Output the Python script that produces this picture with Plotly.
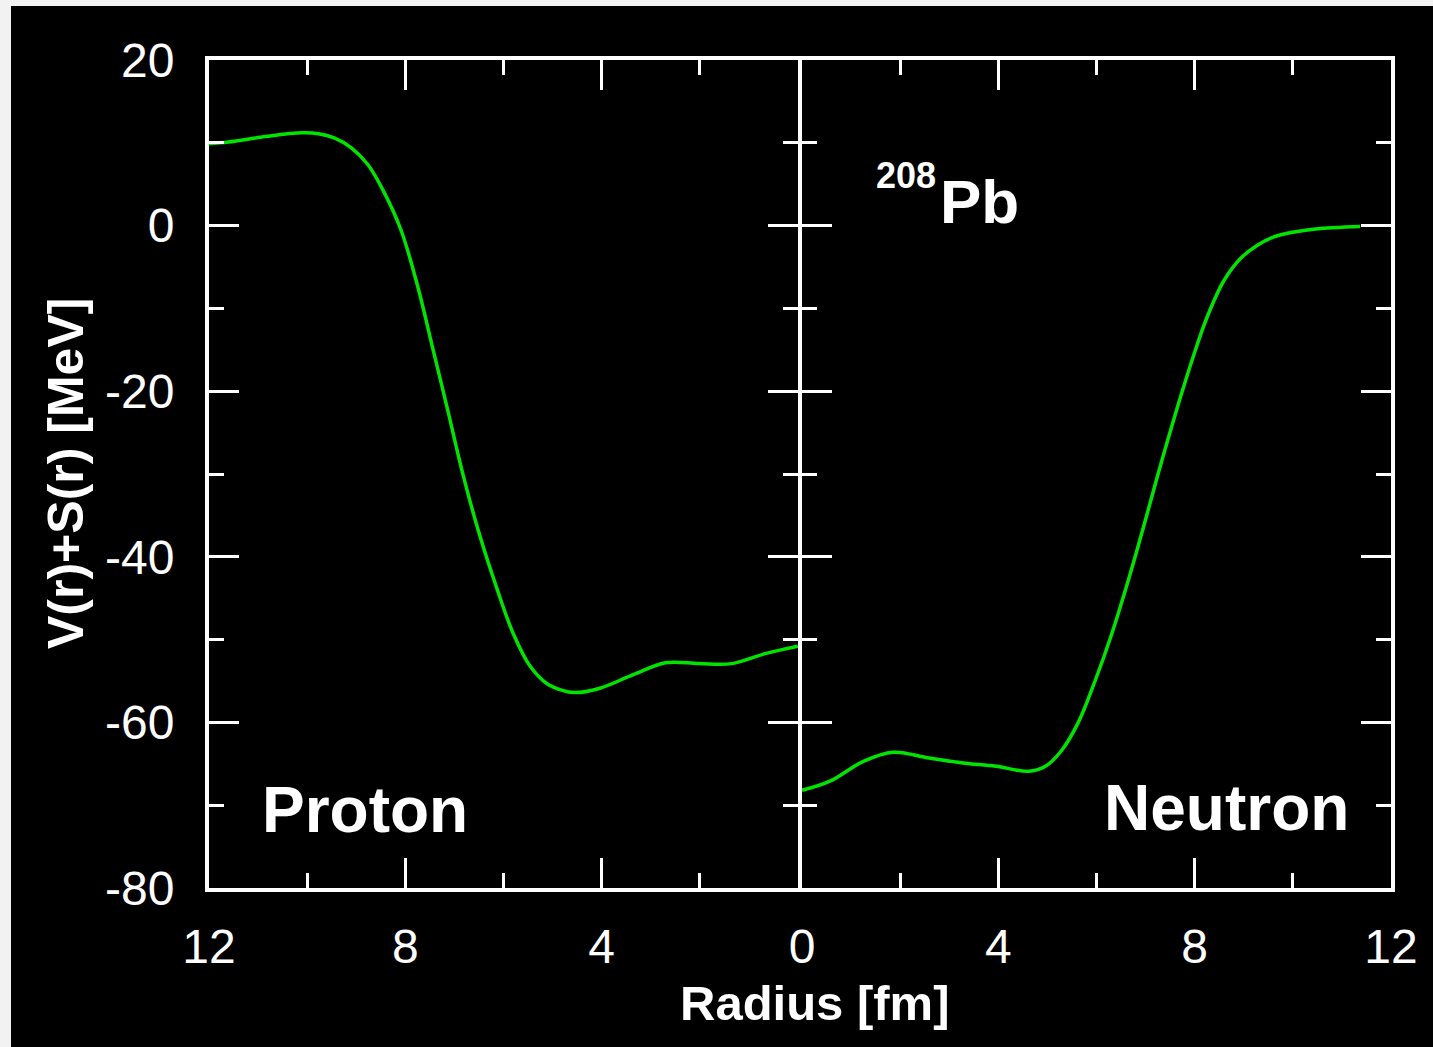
import plotly.graph_objects as go

# ---- data ----
r_proton = [12.0, 11.6, 10.8, 10.1, 9.77, 9.45, 9.1, 8.76, 8.44, 8.09, 7.75, 7.43, 7.14, 6.82, 6.48,
            6.13, 5.8, 5.46, 5.12, 4.82, 4.55, 4.05, 3.38, 2.7, 2.02, 1.35, 0.67, 0.0]
v_proton = [9.9, 10.1, 10.8, 11.2, 11.1, 10.6, 9.4, 7.35, 4.1, -0.5, -7.3, -15.1, -22.2, -30.2, -37.5,
            -43.9, -49.3, -53.2, -55.3, -56.1, -56.4, -55.9, -54.3, -52.8, -52.9, -52.9, -51.7, -50.8]

r_neutron = [0.0, 0.57, 1.25, 1.86, 2.59, 3.28, 3.95, 4.62, 4.96, 5.3, 5.63, 5.97, 6.3, 6.65,
             7.0, 7.32, 7.66, 7.95, 8.25, 8.6, 8.93, 9.27, 9.6, 10.0, 10.46, 11.37]
v_neutron = [-68.2, -67.1, -64.7, -63.6, -64.3, -64.9, -65.3, -65.9, -65.3, -63.3, -60.0, -55.0, -49.5,
             -42.8, -35.5, -28.6, -21.7, -16.2, -11.1, -6.6, -4.0, -2.4, -1.4, -0.8, -0.4, -0.1]

x_left_ticks = [12, 8, 4]
x_left_labels = ["12", "8", "4"]
x_right_ticks = [0, 4, 8, 12]
x_right_labels = ["0", "4", "8", "12"]
y_ticks = [20, 0, -20, -40, -60, -80]
y_labels = ["20", "0", "-20", "-40", "-60", "-80"]

W, H = 1433, 1047
def px(x):
    return x / W
def py(y):
    return 1 - y / H

FONT = "Liberation Sans, Arial, Helvetica, sans-serif"
GREEN = "#00e400"
WHITE = "white"

fig = go.Figure()
fig.add_trace(go.Scatter(x=r_proton, y=v_proton, mode="lines", xaxis="x", yaxis="y",
                         line=dict(color=GREEN, width=3.5, shape="spline", smoothing=1.0),
                         showlegend=False, hoverinfo="skip"))
fig.add_trace(go.Scatter(x=r_neutron, y=v_neutron, mode="lines", xaxis="x2", yaxis="y2",
                         line=dict(color=GREEN, width=3.5, shape="spline", smoothing=1.0),
                         showlegend=False, hoverinfo="skip"))

x0, xm, xm2, x1 = px(209), px(798), px(802), px(1391)
y0, y1 = py(888), py(60)

common = dict(showline=True, linecolor=WHITE, linewidth=4, mirror="ticks",
              ticks="inside", ticklen=30, tickwidth=3, tickcolor=WHITE,
              showgrid=False, zeroline=False, automargin=False,
              tickfont=dict(family=FONT, size=48, color=WHITE))

def minor(dt):
    return dict(tickmode="linear", tick0=0, dtick=dt, ticks="inside", ticklen=15,
                tickwidth=3, tickcolor=WHITE, showgrid=False)

fig.update_layout(
    width=W, height=H, autosize=False,
    margin=dict(l=0, r=0, t=0, b=0, pad=0, autoexpand=False),
    paper_bgcolor="black", plot_bgcolor="black",
    xaxis=dict(domain=[x0, xm], range=[12, 0], anchor="y",
               tickmode="array", tickvals=x_left_ticks, ticktext=x_left_labels,
               ticklabelstandoff=13, minor=minor(2), **common),
    xaxis2=dict(domain=[xm2, x1], range=[0, 12], anchor="y2",
                tickmode="array", tickvals=x_right_ticks, ticktext=x_right_labels,
                ticklabelstandoff=13, minor=minor(2), **common),
    yaxis=dict(domain=[y0, y1], range=[-80, 20], anchor="x",
               tickmode="array", tickvals=y_ticks, ticktext=y_labels,
               ticklabelstandoff=21, minor=minor(10), **common),
    yaxis2=dict(domain=[y0, y1], range=[-80, 20], anchor="x2", matches="y",
                tickmode="array", tickvals=y_ticks, showticklabels=False,
                minor=minor(10), **common),
    shapes=[
        dict(type="rect", xref="paper", yref="paper", x0=0, x1=1, y0=py(6), y1=1,
             fillcolor="#f2f2f2", line=dict(width=0), layer="below"),
        dict(type="rect", xref="paper", yref="paper", x0=0, x1=px(11), y0=0, y1=1,
             fillcolor="#f2f2f2", line=dict(width=0), layer="below"),
    ],
)

ann = []
def text(x, y, s, size, bold=True, angle=0):
    ann.append(dict(x=px(x), y=py(y), xref="paper", yref="paper", text=(f"<b>{s}</b>" if bold else s),
                    showarrow=False, xanchor="center", yanchor="middle", textangle=angle,
                    font=dict(family=FONT, size=size, color=WHITE)))

text(815, 1003, "Radius [fm]", 49)
text(66, 474, "V(r)+S(r) [MeV]", 50, angle=-90)
text(365, 810, "Proton", 64)
text(1226, 808, "Neutron", 64)
text(906, 176, "208", 36)
text(979, 202, "Pb", 62)
fig.update_layout(annotations=ann)

fig.write_html("out.html")
